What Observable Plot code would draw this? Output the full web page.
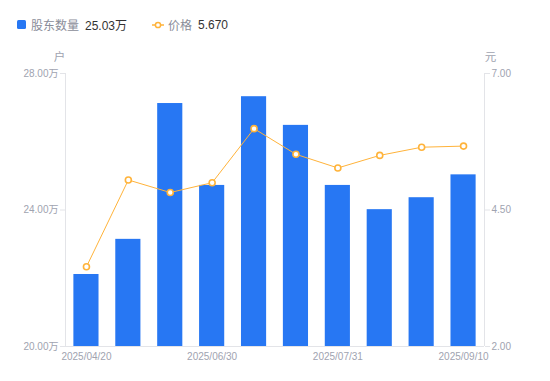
<!DOCTYPE html>
<html>
<head>
<meta charset="utf-8">
<script src="https://cdn.jsdelivr.net/npm/d3@7"></script>
<script src="https://cdn.jsdelivr.net/npm/@observablehq/plot@0.6"></script>
<style>
  html, body { margin: 0; padding: 0; background: #fff; }
  body { width: 550px; height: 381px; overflow: hidden; font-family: "Liberation Sans", "Noto Sans CJK SC", sans-serif; }
  #legend { height: 40px; position: relative; font-size: 12px; }
  #legend .item { position: absolute; top: 16px; display: flex; align-items: center; white-space: nowrap; }
  #legend .lab { color: #8a8d99; margin-right: 6px; }
  #legend .val { color: #333; }
  svg { display: block; }
</style>
</head>
<body>
<div id="legend"></div>
<div id="chart"></div>
<script>
const dates = ["2025/04/20","2025/05/20","2025/06/10","2025/06/30","2025/07/10","2025/07/20","2025/07/31","2025/08/20","2025/08/31","2025/09/10"];
const holders = [22.11, 23.14, 27.12, 24.72, 27.32, 26.48, 24.72, 24.01, 24.36, 25.03]; // 万户
const prices = [3.46, 5.05, 4.82, 5.00, 5.99, 5.52, 5.27, 5.50, 5.65, 5.67]; // 元
const xTickLabels = ["2025/04/20","2025/06/30","2025/07/31","2025/09/10"];
const leftTicks = [20, 24, 28];
const rightTicks = [2, 4.5, 7];
const seriesNames = ["股东数量", "价格"];
const units = ["户", "元"];

const blue = "#2777f3";
const orange = "#ffb33a";
const axisColor = "#e3e4e8";
const textColor = "#a0a3b0";

// map price axis [2,7] onto holder axis [20,28]
const pToY = p => 20 + (p - 2) * 8 / 5;

const rows = dates.map((d, i) => ({date: d, holders: holders[i], price: prices[i], py: pToY(prices[i])}));

// legend
const lg = document.getElementById("legend");
lg.innerHTML = `
  <div class="item" style="left:17px"><span style="display:inline-block;width:9px;height:9px;background:${blue};border-radius:1.5px;margin-right:5px"></span><span class="lab">${seriesNames[0]}</span><span class="val">${holders[holders.length-1].toFixed(2)}万</span></div>
  <div class="item" style="left:152px"><svg width="12" height="10" style="margin-right:4px"><line x1="0" x2="12" y1="5" y2="5" stroke="${orange}" stroke-width="1.5"/><circle cx="6" cy="5" r="2.6" fill="#fff" stroke="${orange}" stroke-width="1.5"/></svg><span class="lab">${seriesNames[1]}</span><span class="val">${prices[prices.length-1].toFixed(3)}</span></div>`;

const chart = Plot.plot({
  width: 550,
  height: 341,
  marginTop: 33,
  marginBottom: 35,
  marginLeft: 65,
  marginRight: 66,
  style: {fontFamily: "'Liberation Sans', 'Noto Sans CJK SC', sans-serif", fontSize: "10px", background: "#fff"},
  x: {type: "band", domain: dates, paddingInner: 0.4, paddingOuter: 0.2, round: false},
  y: {domain: [20, 28]},
  marks: [
    Plot.barY(rows, {x: "date", y1: 20, y2: "holders", fill: blue}),
    Plot.ruleY([20], {stroke: axisColor, strokeWidth: 1}),
    Plot.axisY(leftTicks, {anchor: "left", tickFormat: d => d.toFixed(2) + "万", tickSize: 5, tickPadding: 2, stroke: axisColor, fill: textColor, label: null}),
    Plot.axisY(leftTicks, {anchor: "right", tickFormat: (d, i) => rightTicks[i].toFixed(2), tickSize: 5, tickPadding: 2, stroke: axisColor, fill: textColor, label: null}),
    Plot.axisX(xTickLabels, {tickSize: 0, tickPadding: 6, fill: textColor, label: null}),
    Plot.line(rows, {x: "date", y: "py", stroke: orange, strokeWidth: 1}),
    Plot.dot(rows, {x: "date", y: "py", r: 3, stroke: orange, strokeWidth: 1.6, fill: "#fff"}),
    Plot.text([units[0]], {frameAnchor: "top-left", textAnchor: "middle", dx: -6, dy: -21, fill: textColor, fontSize: 11.5}),
    Plot.text([units[1]], {frameAnchor: "top-right", textAnchor: "middle", dx: 6, dy: -21, fill: textColor, fontSize: 11.5}),
    () => {
      // vertical axis lines
      const ns = "http://www.w3.org/2000/svg";
      const g = document.createElementNS(ns, "g");
      for (const x of [65.5, 484.5]) {
        const l = document.createElementNS(ns, "line");
        l.setAttribute("x1", x); l.setAttribute("x2", x);
        l.setAttribute("y1", 33); l.setAttribute("y2", 306);
        l.setAttribute("stroke", axisColor);
        g.appendChild(l);
      }
      return g;
    }
  ]
});
document.getElementById("chart").appendChild(chart);
</script>
</body>
</html>
